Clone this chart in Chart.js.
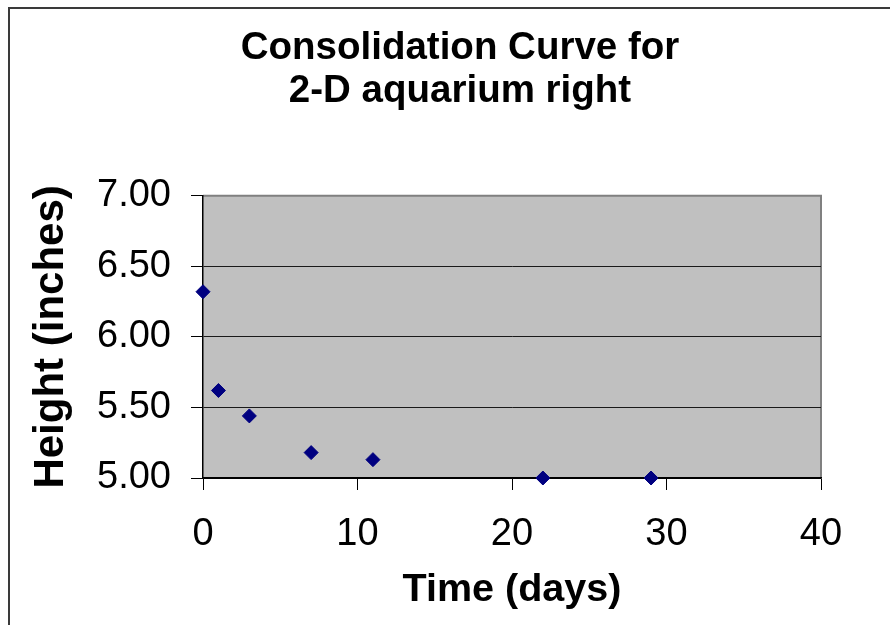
<!DOCTYPE html>
<html>
<head>
<meta charset="utf-8">
<script src="https://cdn.jsdelivr.net/npm/chart.js@4/dist/chart.umd.min.js"></script>
<style>
  html, body { margin: 0; padding: 0; background: #fff; }
  canvas { display: block; }
</style>
</head>
<body>
<canvas id="c" width="890" height="625"></canvas>
<script>
const titleLines = ["Consolidation Curve for", "2-D aquarium right"];
const xAxisTitle = "Time (days)";
const yAxisTitle = "Height (inches)";
const days = [0, 1, 3, 7, 11, 22, 29];
const heights = [6.32, 5.62, 5.44, 5.18, 5.13, 5.00, 5.00];
const xTicks = [0, 10, 20, 30, 40];
const yTicks = [5.0, 5.5, 6.0, 6.5, 7.0];

const FONT = "'Liberation Sans', Arial, sans-serif";

const frame = {
  id: 'frame',
  beforeDraw(chart) {
    const ctx = chart.ctx;
    const a = chart.chartArea;
    ctx.save();
    ctx.fillStyle = '#ffffff';
    ctx.fillRect(0, 0, chart.width, chart.height);
    ctx.strokeStyle = '#3a3a3a';
    ctx.lineWidth = 2;
    ctx.strokeRect(9, 8, chart.width + 20, chart.height + 20);
    ctx.fillStyle = '#c0c0c0';
    ctx.fillRect(a.left, a.top, a.right - a.left, a.bottom - a.top);
    ctx.strokeStyle = '#808080';
    ctx.lineWidth = 2;
    ctx.beginPath();
    ctx.moveTo(a.left, a.top);
    ctx.lineTo(a.right, a.top);
    ctx.lineTo(a.right, a.bottom);
    ctx.stroke();
    ctx.restore();
  }
};

new Chart(document.getElementById('c'), {
  type: 'scatter',
  data: {
    datasets: [{
      data: days.map((d, i) => ({ x: d, y: heights[i] })),
      pointStyle: 'rectRot',
      pointRadius: 7,
      pointHoverRadius: 7,
      backgroundColor: '#000080',
      borderColor: '#000080',
      borderWidth: 1,
      showLine: false,
      clip: false
    }]
  },
  options: {
    responsive: false,
    devicePixelRatio: 1,
    animation: false,
    layout: { padding: { left: 30, right: 0, top: 0, bottom: 0 } },
    plugins: {
      legend: { display: false },
      tooltip: { enabled: false },
      title: {
        display: true,
        text: titleLines,
        color: '#000',
        font: { family: FONT, size: 38.5, weight: 'bold', lineHeight: 1.14 },
        padding: { top: 26, bottom: 82 }
      }
    },
    scales: {
      x: {
        type: 'linear',
        position: 'bottom',
        min: 0, max: 40,
        afterBuildTicks: s => { s.ticks = xTicks.map(v => ({ value: v })); },
        ticks: {
          color: '#000',
          font: { family: FONT, size: 38, lineHeight: 1.2 },
          padding: 22,
          maxRotation: 0,
          callback: v => String(v)
        },
        grid: { display: true, drawOnChartArea: false, drawTicks: true, tickLength: 12, tickColor: '#000', tickWidth: 1 },
        border: { display: true, color: '#000', width: 1.5 },
        title: {
          display: true,
          text: xAxisTitle,
          color: '#000',
          font: { family: FONT, size: 39.5, weight: 'bold', lineHeight: 1.2 },
          padding: { top: 0, bottom: 11 }
        },
        afterFit: s => { s.height = 147; }
      },
      y: {
        type: 'linear',
        position: 'left',
        min: 5, max: 7,
        afterBuildTicks: s => { s.ticks = yTicks.map(v => ({ value: v })); },
        ticks: {
          color: '#000',
          font: { family: FONT, size: 38, lineHeight: 1.2 },
          padding: 20,
          callback: v => Number(v).toFixed(2)
        },
        grid: {
          display: true,
          drawOnChartArea: true,
          drawTicks: true,
          tickLength: 12,
          tickColor: '#000',
          lineWidth: 1,
          color: c => (c.tick && c.tick.value === 7) ? '#808080' : (c.tick && c.tick.value === 5 ? '#000' : '#1a1a1a')
        },
        border: { display: true, color: '#000', width: 1.5 },
        title: {
          display: true,
          text: yAxisTitle,
          color: '#000',
          font: { family: FONT, size: 42, weight: 'bold', lineHeight: 1 },
          padding: { top: 0, bottom: 0 }
        },
        afterFit: s => { s.width = 173; }
      },
      yR: {
        type: 'linear',
        position: 'right',
        display: true,
        ticks: { display: false },
        grid: { display: false, drawTicks: false },
        border: { display: false },
        afterFit: s => { s.width = 69; }
      }
    }
  },
  plugins: [frame]
});
</script>
</body>
</html>
